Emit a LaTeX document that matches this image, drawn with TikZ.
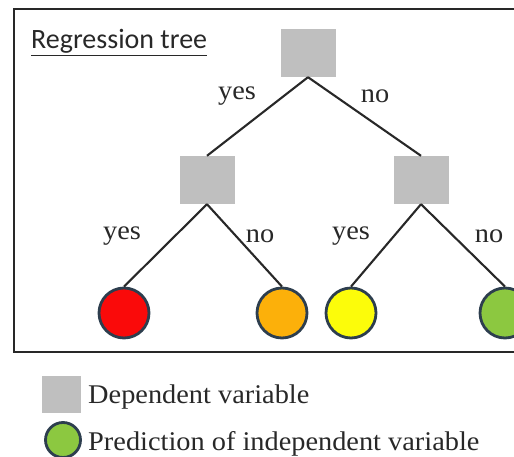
\documentclass[tikz,border=0pt]{standalone}
\usepackage{fontspec}
\setmainfont{Liberation Serif}
\newfontfamily\titlefont{Carlito}
\definecolor{nodegray}{RGB}{191,191,191}
\definecolor{rimcol}{RGB}{45,62,78}
\definecolor{leafred}{RGB}{250,10,10}
\definecolor{leaforange}{RGB}{252,176,10}
\definecolor{leafyellow}{RGB}{252,252,10}
\definecolor{leafgreen}{RGB}{140,200,64}
\definecolor{inkcol}{RGB}{40,40,40}
\begin{document}
\begin{tikzpicture}[x=1bp,y=-1bp,
  decision/.style={fill=nodegray, draw=none, minimum width=55bp, minimum height=48bp, inner sep=0pt},
  leaf/.style={circle, draw=rimcol, line width=2.8bp, minimum size=50bp, inner sep=0pt},
  branch/.style={line width=2.1bp, inkcol},
  lbl/.style={font=\fontsize{27bp}{30bp}\selectfont, text=inkcol, inner sep=0pt, xscale=1.05},
  legtext/.style={font=\fontsize{27bp}{30bp}\selectfont, text=inkcol, inner sep=0pt, anchor=base west, xscale=1.05}]
\useasboundingbox (0,0) rectangle (514,457);
% frame
\draw[line width=2.2bp, inkcol] (14,9) rectangle (540,352);
\node[anchor=base west, inner sep=0pt, font=\titlefont\fontsize{28bp}{32bp}\selectfont, text=inkcol] (title) at (31,49) {\underline{Regression tree}};
% decision nodes
\node[decision] (root) at (308,53) {};
\node[decision] (lmid) at (207,180) {};
\node[decision] (rmid) at (421,180) {};
% leaves
\node[leaf, fill=leafred] (l1) at (124,313) {};
\node[leaf, fill=leaforange] (l2) at (282,313) {};
\node[leaf, fill=leafyellow] (l3) at (351,313) {};
\node[leaf, fill=leafgreen] (l4) at (505,313) {};
% branches
\draw[branch] (root.south) -- (lmid.north);
\draw[branch] (root.south) -- (rmid.north);
\draw[branch] (lmid.south) -- (l1.north);
\draw[branch] (lmid.south) -- (l2.north);
\draw[branch] (rmid.south) -- (l3.north);
\draw[branch] (rmid.south) -- (l4.north);
% branch labels
\node[lbl] (y1) at (237,96) {yes};
\node[lbl] (n1) at (375,96) {no};
\node[lbl] (y2) at (122,236) {yes};
\node[lbl] (n2) at (260,236) {no};
\node[lbl] (y3) at (351,236) {yes};
\node[lbl] (n3) at (489,236) {no};
% legend
\node[fill=nodegray, minimum width=39bp, minimum height=37bp, inner sep=0pt] (legsq) at (61,394) {};
\node[legtext] (legdep) at (88,403) {Dependent variable};
\node[circle, draw=rimcol, line width=2.8bp, fill=leafgreen, minimum size=35bp, inner sep=0pt] (legcirc) at (63,440) {};
\node[legtext] (legpred) at (88,450) {Prediction of independent variable};
\end{tikzpicture}
\end{document}
